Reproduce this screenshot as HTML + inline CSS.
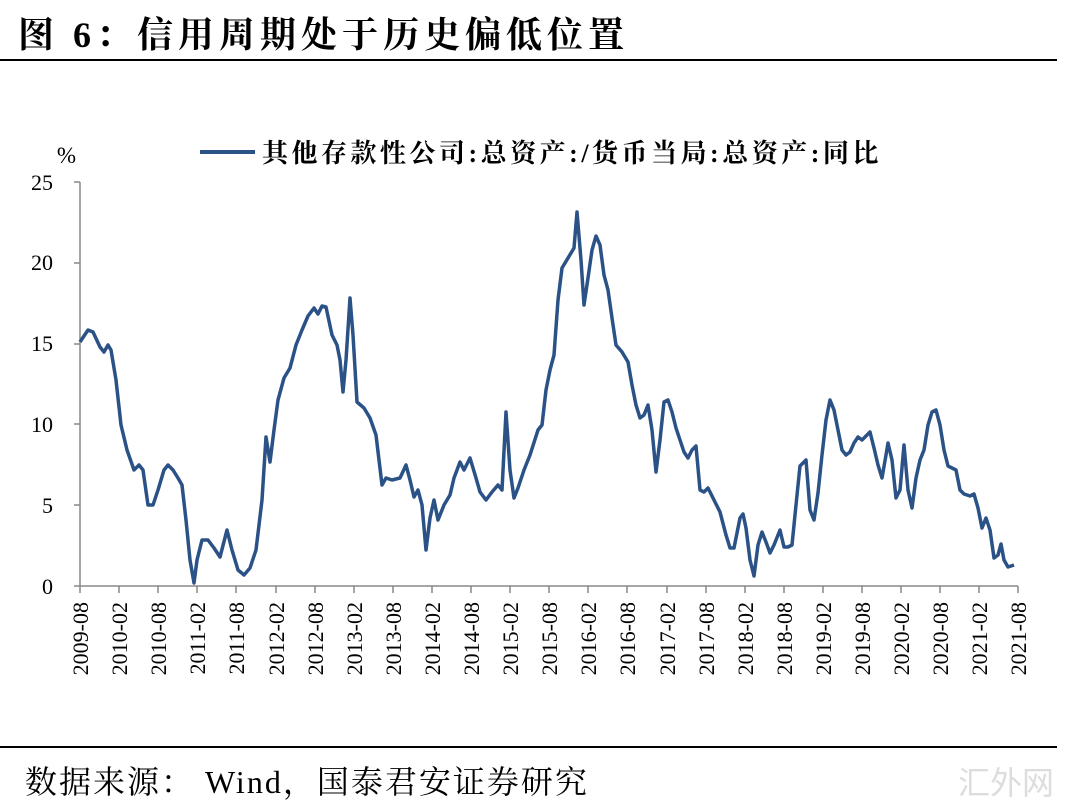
<!DOCTYPE html>
<html><head><meta charset="utf-8"><style>
body{margin:0;width:1080px;height:812px;background:#fff;overflow:hidden;position:relative;font-family:"Liberation Serif","Noto Serif CJK SC",serif}
.t{position:absolute;left:18px;top:7px;font-size:36px;font-weight:bold;letter-spacing:5px;color:#000;white-space:nowrap}
.s{position:absolute;left:25px;top:757px;font-size:32px;letter-spacing:2px;color:#000;white-space:pre}
.w{position:absolute;left:958px;top:758px;font-size:32px;color:#ddd;font-family:"Noto Sans CJK SC",sans-serif}
</style></head><body>
<div class="t">图 6：信用周期处于历史偏低位置</div>
<div style="position:absolute;left:0;top:59px;width:1057px;height:2px;background:#000"></div>
<div style="position:absolute;left:0;top:746px;width:1057px;height:2px;background:#000"></div>
<div class="s">数据来源： Wind，国泰君安证券研究</div>
<div class="w">汇外网</div>
<svg width="1080" height="812" style="position:absolute;left:0;top:0">
<g font-family="Liberation Serif" font-size="22" fill="#000" text-anchor="end">
<text x="53" y="594">0</text><text x="53" y="513">5</text><text x="53" y="432">10</text><text x="53" y="351">15</text><text x="53" y="270">20</text><text x="53" y="190">25</text>
<text x="76" y="163" font-size="23">%</text>
</g>
<g stroke="#888" stroke-width="1.5">
<line x1="80" y1="182" x2="80" y2="586"/><line x1="80" y1="586" x2="1018" y2="586"/>
<line x1="74" y1="182" x2="80" y2="182"/><line x1="74" y1="263" x2="80" y2="263"/><line x1="74" y1="344" x2="80" y2="344"/><line x1="74" y1="424" x2="80" y2="424"/><line x1="74" y1="505" x2="80" y2="505"/><line x1="74" y1="586" x2="80" y2="586"/>
</g>
<line x1="200" y1="152" x2="255" y2="152" stroke="#2b5286" stroke-width="4"/>
<text x="262" y="162" font-size="26" font-weight="bold" font-family="Liberation Serif,Noto Serif CJK SC,serif" letter-spacing="3.5">其他存款性公司:总资产:/货币当局:总资产:同比</text>
<polyline fill="none" stroke="#2b5286" stroke-width="3.5" stroke-linejoin="round" points="80,342 88,330 93,332 100,347 104,352 108,345 111,350 116,380 121,425 127,450 134,470 139,465 143,470 148,505 153,505 158,490 164,470 168,465 173,470 178,478 182,485 186,520 190,560 194,583 197,560 202,540 208,540 214,548 220,557 227,530 232,550 238,570 244,575 250,568 256,550 262,500 266,437 270,462 274,430 278,400 284,378 290,368 296,345 302,330 308,316 314,308 318,314 322,306 326,307 332,335 337,345 340,360 343,392 346,360 350,298 353,335 357,402 364,408 370,418 376,435 382,485 386,478 392,480 400,478 406,465 410,480 414,497 418,490 422,505 426,550 430,518 434,500 438,520 444,505 450,495 454,478 460,462 464,470 470,458 476,478 480,492 486,500 492,492 498,485 502,490 506,412 510,470 514,498 518,488 524,470 530,455 538,430 542,425 546,390 550,370 554,355 558,300 562,268 568,258 574,248 577,212 581,260 584,305 588,278 592,250 596,236 600,245 604,275 608,290 612,318 616,345 622,352 628,362 632,385 636,405 640,418 644,415 648,405 652,430 656,472 660,440 664,402 668,400 672,412 676,428 680,440 684,452 688,458 692,450 696,446 700,490 704,492 708,488 714,500 720,512 726,535 730,548 734,548 740,518 743,514 746,528 750,560 754,576 758,545 762,532 766,542 770,553 774,545 780,530 784,547 788,547 792,545 796,505 800,466 806,460 810,510 814,520 818,493 822,455 826,420 830,400 834,410 838,430 842,450 846,455 850,452 854,443 858,437 862,440 866,436 870,432 874,448 878,465 882,478 886,455 888,443 892,460 896,498 900,490 904,445 908,490 912,508 916,478 920,460 924,450 928,425 932,412 936,410 940,425 944,450 948,466 952,468 956,470 960,490 964,494 970,496 974,494 978,508 982,528 986,518 990,530 994,558 998,555 1001,544 1004,560 1008,567 1014,565"/>
<g stroke="#888" stroke-width="1.5">
<line x1="80" y1="586" x2="80" y2="593"/><line x1="119" y1="586" x2="119" y2="593"/><line x1="158" y1="586" x2="158" y2="593"/><line x1="197" y1="586" x2="197" y2="593"/><line x1="236" y1="586" x2="236" y2="593"/><line x1="276" y1="586" x2="276" y2="593"/><line x1="315" y1="586" x2="315" y2="593"/><line x1="354" y1="586" x2="354" y2="593"/><line x1="393" y1="586" x2="393" y2="593"/><line x1="432" y1="586" x2="432" y2="593"/><line x1="471" y1="586" x2="471" y2="593"/><line x1="510" y1="586" x2="510" y2="593"/><line x1="549" y1="586" x2="549" y2="593"/><line x1="588" y1="586" x2="588" y2="593"/><line x1="627" y1="586" x2="627" y2="593"/><line x1="667" y1="586" x2="667" y2="593"/><line x1="706" y1="586" x2="706" y2="593"/><line x1="745" y1="586" x2="745" y2="593"/><line x1="784" y1="586" x2="784" y2="593"/><line x1="823" y1="586" x2="823" y2="593"/><line x1="862" y1="586" x2="862" y2="593"/><line x1="901" y1="586" x2="901" y2="593"/><line x1="940" y1="586" x2="940" y2="593"/><line x1="979" y1="586" x2="979" y2="593"/><line x1="1018" y1="586" x2="1018" y2="593"/>
</g>
<g font-family="Liberation Serif" font-size="22" fill="#000" text-anchor="end">
<text transform="translate(88,602) rotate(-90)">2009-08</text>
<text transform="translate(127,602) rotate(-90)">2010-02</text>
<text transform="translate(166,602) rotate(-90)">2010-08</text>
<text transform="translate(205,602) rotate(-90)">2011-02</text>
<text transform="translate(244,602) rotate(-90)">2011-08</text>
<text transform="translate(284,602) rotate(-90)">2012-02</text>
<text transform="translate(323,602) rotate(-90)">2012-08</text>
<text transform="translate(362,602) rotate(-90)">2013-02</text>
<text transform="translate(401,602) rotate(-90)">2013-08</text>
<text transform="translate(440,602) rotate(-90)">2014-02</text>
<text transform="translate(479,602) rotate(-90)">2014-08</text>
<text transform="translate(518,602) rotate(-90)">2015-02</text>
<text transform="translate(557,602) rotate(-90)">2015-08</text>
<text transform="translate(596,602) rotate(-90)">2016-02</text>
<text transform="translate(635,602) rotate(-90)">2016-08</text>
<text transform="translate(675,602) rotate(-90)">2017-02</text>
<text transform="translate(714,602) rotate(-90)">2017-08</text>
<text transform="translate(753,602) rotate(-90)">2018-02</text>
<text transform="translate(792,602) rotate(-90)">2018-08</text>
<text transform="translate(831,602) rotate(-90)">2019-02</text>
<text transform="translate(870,602) rotate(-90)">2019-08</text>
<text transform="translate(909,602) rotate(-90)">2020-02</text>
<text transform="translate(948,602) rotate(-90)">2020-08</text>
<text transform="translate(987,602) rotate(-90)">2021-02</text>
<text transform="translate(1026,602) rotate(-90)">2021-08</text>
</g>
</svg>
</body></html>
